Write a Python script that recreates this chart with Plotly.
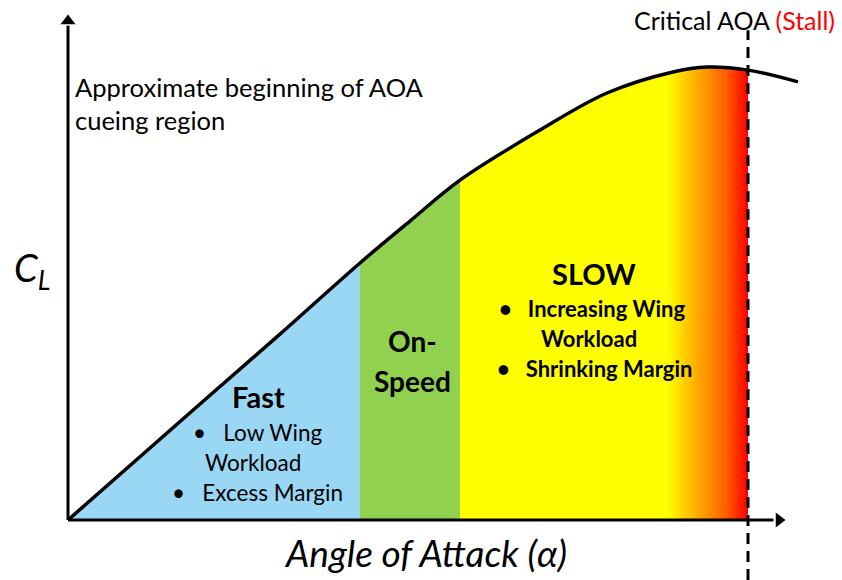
import plotly.graph_objects as go

# ---- data (AOA in degrees, lift coefficient) ----
aoa = [0.0, 3.106, 4.988, 6.871, 8.047, 9.224, 11.106, 12.682, 14.235, 15.035, 16.0, 17.176]
cl = [0.0, 0.385, 0.617, 0.853, 0.992, 1.128, 1.294, 1.417, 1.487, 1.503, 1.493, 1.454]
fast_end = 6.871
onspeed_end = 9.224
gradient_start = 14.1
critical_aoa = 16.0

BLUE = "#9AD7F4"
GREEN = "#92D050"
YELLOW = "#FFFF00"
FONT = "Lato"

fig = go.Figure()

# shaded regions under the lift curve, up to the critical AOA
fx = [a for a in aoa if a <= critical_aoa]
fy = [c for a, c in zip(aoa, cl) if a <= critical_aoa]
f1 = fast_end / critical_aoa
f2 = onspeed_end / critical_aoa
f3 = gradient_start / critical_aoa
scale = [[0, BLUE], [f1, BLUE], [f1 + 1e-4, GREEN], [f2, GREEN], [f2 + 1e-4, YELLOW],
         [f3, YELLOW], [f3 + (1 - f3) * 0.35, "#FFB000"], [f3 + (1 - f3) * 0.72, "#FF6000"],
         [1, "#FF0000"]]
fig.add_trace(go.Scatter(x=fx, y=fy, fill="tozeroy", mode="lines",
                         line=dict(width=0, shape="spline"),
                         fillgradient=dict(type="horizontal", colorscale=scale),
                         showlegend=False, hoverinfo="skip"))
# lift curve
fig.add_trace(go.Scatter(x=aoa, y=cl, mode="lines", line=dict(color="black", width=3.5, shape="spline"),
                         showlegend=False, hoverinfo="skip"))

# axes with arrowheads
fig.add_shape(type="line", x0=0, y0=0, x1=16.6, y1=0, line=dict(color="black", width=3))
fig.add_shape(type="line", x0=0, y0=0, x1=0, y1=1.64, line=dict(color="black", width=3))
fig.add_trace(go.Scatter(x=[16.73], y=[0], mode="markers",
                         marker=dict(symbol="triangle-right", size=13, color="black"),
                         showlegend=False, hoverinfo="skip"))
fig.add_trace(go.Scatter(x=[0], y=[1.656], mode="markers",
                         marker=dict(symbol="triangle-up", size=13, color="black"),
                         showlegend=False, hoverinfo="skip"))

# critical AOA dashed line
fig.add_shape(type="line", x0=critical_aoa, x1=critical_aoa, xref="x", yref="paper", y0=0, y1=0.948,
              line=dict(color="black", width=3, dash="11px,7px"))

def txt(x, y, s, size, bold=False, italic=False, color="black", xanchor="center"):
    fig.add_annotation(x=x, y=y, xref="paper", yref="paper", text=s, showarrow=False,
                       xanchor=xanchor, yanchor="middle",
                       font=dict(family=FONT, size=size, color=color,
                                 weight="bold" if bold else "normal",
                                 style="italic" if italic else "normal"))

W, H = 842, 580
def P(px, py):
    return px / W, 1 - py / H

txt(*P(734, 20), "Critical AOA <span style='color:#FF0000'>(Stall)</span>", 25)
txt(*P(73, 87), "Approximate beginning of AOA", 25.5, xanchor="left")
txt(*P(73, 120), "cueing region", 25.5, xanchor="left")
txt(*P(32, 270), "C<sub>L</sub>", 38, italic=True)
txt(*P(425, 552), "Angle of Attack (α)", 37, italic=True)

txt(*P(258, 396), "Fast", 29, bold=True)
txt(*P(257, 432), "•   Low Wing", 22.5)
txt(*P(253, 462), "Workload", 22.5)
txt(*P(257, 492), "•   Excess Margin", 22.5)

txt(*P(412, 341), "On-", 28, bold=True)
txt(*P(412, 381), "Speed", 28, bold=True)

txt(*P(594, 273), "SLOW", 29, bold=True)
txt(*P(592, 308), "•   Increasing Wing", 22, bold=True)
txt(*P(589, 338), "Workload", 22, bold=True)
txt(*P(594, 368), "•   Shrinking Margin", 22, bold=True)

x_lo = -68 / 680 * 16
x_hi = (842 - 68) / 680 * 16
k = 1.5 / 452
fig.update_layout(
    width=W, height=H, margin=dict(l=0, r=0, t=0, b=0),
    paper_bgcolor="white", plot_bgcolor="white",
    xaxis=dict(range=[x_lo, x_hi], visible=False, fixedrange=True),
    yaxis=dict(range=[-(580 - 520) * k, 520 * k], visible=False, fixedrange=True),
)
fig.write_html("out.html", config={"displayModeBar": False},
               post_script="document.body.style.margin='0';document.body.style.overflow='hidden';")
